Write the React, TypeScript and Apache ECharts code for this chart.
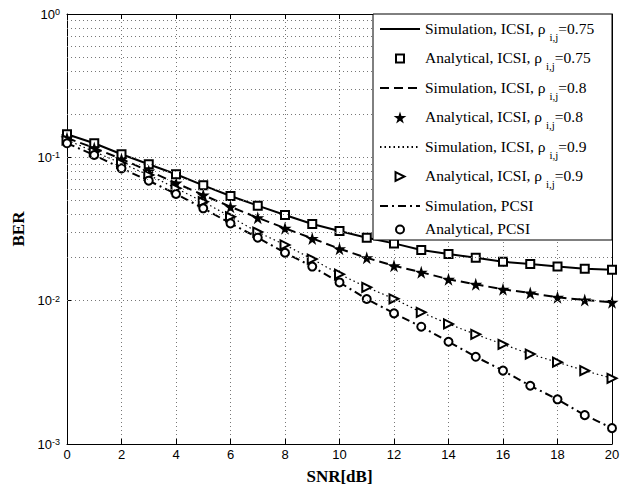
import React, { useEffect, useRef } from 'react';
import * as echarts from 'echarts';

// SNR [dB]
const snr = [0, 1, 2, 3, 4, 5, 6, 7, 8, 9, 10, 11, 12, 13, 14, 15, 16, 17, 18, 19, 20];

// ICSI, rho = 0.75
const simICSI075 = [0.1448, 0.1253, 0.105, 0.0894, 0.0762, 0.0638, 0.0537, 0.046, 0.0396, 0.0343, 0.0306, 0.0275, 0.0251, 0.0226, 0.0212, 0.0199, 0.0187, 0.018, 0.0173, 0.0167, 0.0164];
const anaICSI075 = [0.1448, 0.1253, 0.105, 0.0894, 0.0762, 0.0638, 0.0537, 0.046, 0.0396, 0.0343, 0.0306, 0.0275, 0.0251, 0.0226, 0.0212, 0.0199, 0.0187, 0.018, 0.0173, 0.0167, 0.0164];
// ICSI, rho = 0.8
const simICSI08 = [0.1364, 0.1162, 0.0973, 0.0803, 0.0662, 0.0546, 0.0452, 0.0379, 0.032, 0.0272, 0.023, 0.0199, 0.0175, 0.0158, 0.0141, 0.013, 0.012, 0.0113, 0.01055, 0.0101, 0.00974];
const anaICSI08 = [0.1364, 0.1162, 0.0973, 0.0803, 0.0662, 0.0546, 0.0452, 0.0379, 0.032, 0.0272, 0.023, 0.0199, 0.0175, 0.0158, 0.0141, 0.013, 0.012, 0.0113, 0.01055, 0.0101, 0.00974];
// ICSI, rho = 0.9
const simICSI09 = [0.1321, 0.1095, 0.0909, 0.0753, 0.0608, 0.049, 0.0385, 0.0301, 0.0245, 0.0195, 0.0153, 0.0124, 0.0103, 0.00829, 0.00688, 0.00582, 0.00496, 0.00424, 0.00372, 0.00325, 0.00287];
const anaICSI09 = [0.1321, 0.1095, 0.0909, 0.0753, 0.0608, 0.049, 0.0385, 0.0301, 0.0245, 0.0195, 0.0153, 0.0124, 0.0103, 0.00829, 0.00688, 0.00582, 0.00496, 0.00424, 0.00372, 0.00325, 0.00287];
// PCSI
const simPCSI = [0.1253, 0.1038, 0.0838, 0.0687, 0.0555, 0.0441, 0.0346, 0.0275, 0.0216, 0.0173, 0.0134, 0.01027, 0.00816, 0.00658, 0.00517, 0.00406, 0.00325, 0.00255, 0.00205, 0.00159, 0.00129];
const anaPCSI = [0.1253, 0.1038, 0.0838, 0.0687, 0.0555, 0.0441, 0.0346, 0.0275, 0.0216, 0.0173, 0.0134, 0.01027, 0.00816, 0.00658, 0.00517, 0.00406, 0.00325, 0.00255, 0.00205, 0.00159, 0.00129];

// Log grid lines (MATLAB-style minor grid)
const yGridValues = [
  0.002, 0.003, 0.004, 0.005, 0.006, 0.007, 0.008, 0.009,
  0.01, 0.02, 0.03, 0.04, 0.05, 0.06, 0.07, 0.08, 0.09,
  0.1, 0.2, 0.3, 0.4, 0.5, 0.6, 0.7, 0.8, 0.9,
];

// Legend labels: [main, subscript, tail]
const legendNames = ['simICSI075', 'anaICSI075', 'simICSI08', 'anaICSI08', 'simICSI09', 'anaICSI09', 'simPCSI', 'anaPCSI'];
const legendMain = ['Simulation, ICSI, ρ ', 'Analytical, ICSI, ρ ', 'Simulation, ICSI, ρ ', 'Analytical, ICSI, ρ ', 'Simulation, ICSI, ρ ', 'Analytical, ICSI, ρ ', 'Simulation, PCSI', 'Analytical, PCSI'];
const legendSub = ['i,j', 'i,j', 'i,j', 'i,j', 'i,j', 'i,j', '', ''];
const legendTail = ['=0.75', '=0.75', '=0.8', '=0.8', '=0.9', '=0.9', '', ''];

const STAR = 'path://M50,0 L61,35 L98,35 L68,57 L79,91 L50,70 L21,91 L32,57 L2,35 L39,35 Z';
const TRI_RIGHT = 'path://M0,0 L10,5 L0,10 Z';
// legend icons, padded with move-to points so they draw smaller than the icon box
const SQUARE_ICON = 'path://M-2.5,-2.5 M12.5,12.5 M0,0 L10,0 L10,10 L0,10 Z';
const TRI_ICON = 'path://M-1.7,-1.7 M11.7,11.7 M0,0 L10,5 L0,10 Z';
const CIRCLE_ICON = 'path://M-2.5,-2.5 M12.5,12.5 M0,5 A5,5 0 1,1 10,5 A5,5 0 1,1 0,5 Z';

const pairs = (ys: number[]) => snr.map((x, i) => [x, ys[i]]);

export default function App() {
  const ref = useRef<HTMLDivElement>(null);

  useEffect(() => {
    if (!ref.current) return;
    const chart = echarts.init(ref.current, undefined, { renderer: 'svg' });
    const black = '#000';
    const hollow = { color: '#fff', borderColor: black, borderWidth: 2, opacity: 1 };
    const lineSeries = (name: string, ys: number[], type: any, width = 2) => ({
      name,
      type: 'line',
      data: pairs(ys),
      symbol: 'none',
      color: black,
      lineStyle: { color: black, width, type },
      z: 3,
    });
    const scatterSeries = (name: string, ys: number[], symbol: string, size: number, itemStyle: any) => ({
      name,
      type: 'scatter',
      data: pairs(ys),
      symbol,
      symbolSize: size,
      itemStyle,
      z: 4,
    });

    const labelMap: Record<string, string> = {};
    legendNames.forEach((n, i) => {
      labelMap[n] = legendSub[i]
        ? `{n|${legendMain[i]}}{s|${legendSub[i]}}{n|${legendTail[i]}}`
        : `{n|${legendMain[i]}}`;
    });

    const noSymbol = { color: 'rgba(0,0,0,0)', borderWidth: 0, opacity: 0 };
    const hollowIcon = { color: '#fff', borderColor: black, borderWidth: 2, opacity: 1 };

    const option: any = {
      animation: false,
      backgroundColor: '#fff',
      grid: { left: 67, right: 29, top: 14, bottom: 41, containLabel: false, outerBoundsMode: 'none', show: false },
      graphic: [
        {
          type: 'rect',
          shape: { x: 373, y: 14, width: 239, height: 226 },
          style: { fill: '#fff', stroke: black, lineWidth: 1 },
          z: 50,
        },
      ],
      legend: {
        orient: 'vertical',
        left: 379,
        top: 20,
        padding: 0,
        itemGap: 7.5,
        itemWidth: 40,
        itemHeight: 12,
        z: 60,
        selectedMode: false,
        data: [
          { name: 'simICSI075', itemStyle: noSymbol },
          { name: 'anaICSI075', icon: SQUARE_ICON, itemStyle: hollowIcon },
          { name: 'simICSI08', itemStyle: noSymbol },
          { name: 'anaICSI08', icon: STAR, itemStyle: { color: black, borderWidth: 0, opacity: 1 } },
          { name: 'simICSI09', itemStyle: noSymbol },
          { name: 'anaICSI09', icon: TRI_ICON, itemStyle: hollowIcon },
          { name: 'simPCSI', itemStyle: noSymbol },
          { name: 'anaPCSI', icon: CIRCLE_ICON, itemStyle: hollowIcon },
        ],
        formatter: (name: string) => labelMap[name],
        textStyle: {
          color: black,
          fontFamily: 'Liberation Serif',
          fontSize: 15.5,
          rich: {
            n: { fontFamily: 'Liberation Serif', fontSize: 15.5, color: black, lineHeight: 18, verticalAlign: 'top' },
            s: { fontFamily: 'Liberation Serif', fontSize: 11, color: black, lineHeight: 11, padding: [11, 0, 0, 0], verticalAlign: 'top' },
          },
        },
      },
      xAxis: [
        {
          type: 'value',
          min: 0,
          max: 20,
          interval: 2,
          position: 'bottom',
          name: 'SNR[dB]',
          nameLocation: 'middle',
          nameGap: 24,
          nameTextStyle: { fontFamily: 'Liberation Serif', fontWeight: 'bold', fontSize: 17, color: black },
          axisLine: { show: true, onZero: false, lineStyle: { color: black, width: 1 } },
          axisTick: { show: true, inside: true, length: 5, lineStyle: { color: black } },
          axisLabel: { color: black, fontFamily: 'Liberation Sans', fontSize: 13, margin: 4 },
          splitLine: { show: true, lineStyle: { color: '#777', width: 1, type: [1, 3] } },
        },
        {
          type: 'value',
          min: 0,
          max: 20,
          interval: 2,
          position: 'top',
          axisLine: { show: true, onZero: false, lineStyle: { color: black, width: 1 } },
          axisTick: { show: true, inside: true, length: 5, lineStyle: { color: black } },
          axisLabel: { show: false },
          splitLine: { show: false },
        },
      ],
      yAxis: [
        {
          type: 'log',
          logBase: 10,
          min: 0.001,
          max: 1,
          position: 'left',
          name: 'BER',
          nameLocation: 'middle',
          nameGap: 35,
          nameTextStyle: { fontFamily: 'Liberation Serif', fontWeight: 'bold', fontSize: 17, color: black },
          axisLine: { show: true, onZero: false, lineStyle: { color: black, width: 1 } },
          axisTick: { show: true, inside: true, length: 5, lineStyle: { color: black } },
          axisLabel: {
            color: black,
            margin: 7,
            formatter: (v: number) => `{b|10}{s|${Math.round(Math.log10(v))}}`,
            rich: {
              b: { fontFamily: 'Liberation Sans', fontSize: 13, color: black, lineHeight: 13, padding: [5, 0, 0, 0], verticalAlign: 'bottom' },
              s: { fontFamily: 'Liberation Sans', fontSize: 9, color: black, lineHeight: 9, verticalAlign: 'top' },
            },
          },
          splitLine: { show: false },
        },
        {
          type: 'log',
          logBase: 10,
          min: 0.001,
          max: 1,
          position: 'right',
          axisLine: { show: true, onZero: false, lineStyle: { color: black, width: 1 } },
          axisTick: { show: true, inside: true, length: 5, lineStyle: { color: black } },
          axisLabel: { show: false },
          splitLine: { show: false },
        },
      ],
      series: [
        {
          name: 'grid',
          type: 'line',
          data: [],
          silent: true,
          z: 1,
          markLine: {
            silent: true,
            symbol: ['none', 'none'],
            label: { show: false },
            lineStyle: { color: '#777', width: 1, type: [1, 3] },
            data: yGridValues.map((v) => ({ yAxis: v })),
          },
        },
        lineSeries('simICSI075', simICSI075, 'solid', 2),
        scatterSeries('anaICSI075', anaICSI075, 'rect', 8, hollow),
        lineSeries('simICSI08', simICSI08, [9, 5], 2),
        scatterSeries('anaICSI08', anaICSI08, STAR, 13, { color: black, borderWidth: 0, opacity: 1 }),
        lineSeries('simICSI09', simICSI09, [1.5, 3], 1.2),
        scatterSeries('anaICSI09', anaICSI09, TRI_RIGHT, 9, hollow),
        lineSeries('simPCSI', simPCSI, [8, 4, 2, 4], 2),
        scatterSeries('anaPCSI', anaPCSI, 'circle', 8, hollow),
      ],
    };
    chart.setOption(option);
    return () => chart.dispose();
  }, []);

  return (
    <div
      ref={ref}
      style={{ position: 'fixed', left: 0, top: 0, width: 641, height: 485, background: '#fff' }}
    />
  );
}
